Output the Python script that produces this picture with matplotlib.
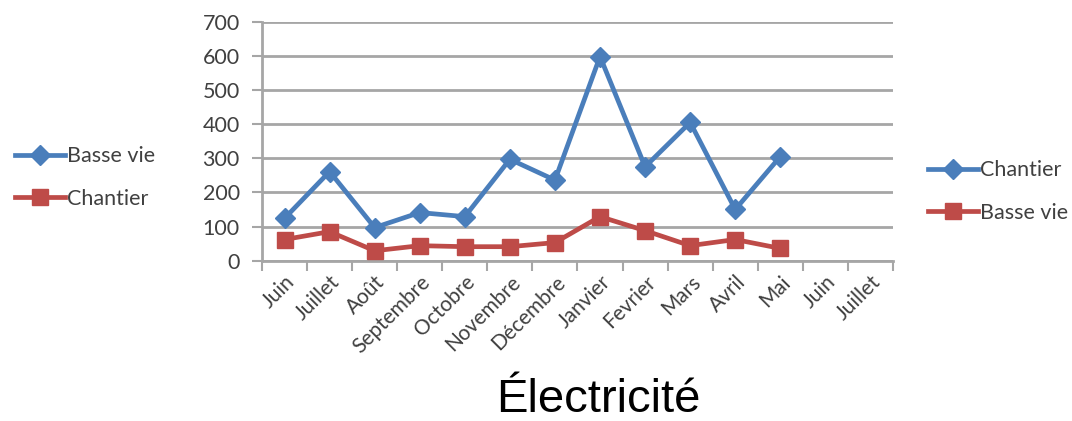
import matplotlib
matplotlib.use("Agg")
import matplotlib.pyplot as plt
from matplotlib.lines import Line2D
import numpy as np

months = ["Juin", "Juillet", "Août", "Septembre", "Octobre", "Novembre",
          "Décembre", "Janvier", "Fevrier", "Mars", "Avril", "Mai",
          "Juin", "Juillet"]
chantier = [124, 261, 97, 141, 129, 297, 236, 598, 275, 405, 150, 305]
basse_vie = [62, 85, 29, 44, 41, 41, 53, 129, 88, 44, 62, 36]
y_ticks = [0, 100, 200, 300, 400, 500, 600, 700]

BLUE = "#4a7ebb"
RED = "#be4b48"
GRID = "#a6a6a6"
TEXT = "#404040"
FONT = ["Lato", "DejaVu Sans"]

fig = plt.figure(figsize=(10.72, 4.21), dpi=100)
ax = fig.add_axes([0.2444, 0.3808, 0.5886, 0.5677])

x = np.arange(len(chantier))
ax.plot(x, chantier, color=BLUE, lw=3.4, marker="D", ms=10, mec=BLUE, mfc=BLUE,
        zorder=3)
ax.plot(x, basse_vie, color=RED, lw=3.4, marker="s", ms=12, mec=RED, mfc=RED,
        zorder=3)

ax.set_xlim(-0.5, len(months) - 0.5)
ax.set_ylim(0, 700)
ax.set_yticks(y_ticks)
ax.set_yticklabels([str(v) for v in y_ticks], fontsize=15.5, color=TEXT,
                   family=FONT)
ax.yaxis.grid(True, color=GRID, lw=2)
ax.set_axisbelow(True)

ax.set_xticks(np.arange(len(months)))
ax.set_xticklabels(months, rotation=45, ha="right", rotation_mode="anchor",
                   fontsize=15, color=TEXT, family=FONT)
ax.tick_params(axis="x", which="major", length=0, pad=8)
ax.set_xticks(np.arange(-0.5, len(months)), minor=True)
ax.tick_params(axis="x", which="minor", length=7, width=1.5, color=GRID,
               direction="out")
ax.tick_params(axis="y", length=7, width=1.5, color=GRID, pad=9)

for side in ("top", "right"):
    ax.spines[side].set_visible(False)
for side in ("left", "bottom"):
    ax.spines[side].set_color(GRID)
    ax.spines[side].set_linewidth(2)

def legend_handles(first_color, first_marker, second_color, second_marker):
    return [
        Line2D([], [], color=first_color, lw=3.4, marker=first_marker,
               ms=10 if first_marker == "D" else 12, mec=first_color),
        Line2D([], [], color=second_color, lw=3.4, marker=second_marker,
               ms=10 if second_marker == "D" else 12, mec=second_color),
    ]

legend_kw = dict(loc="center left", frameon=False, borderpad=0,
                 borderaxespad=0, handlelength=2.3, handletextpad=0.1,
                 labelspacing=1.05, prop={"family": FONT, "size": 15.5})

left_leg = fig.legend(legend_handles(BLUE, "D", RED, "s"),
                      ["Basse vie", "Chantier"],
                      bbox_to_anchor=(0.014, 0.578), **legend_kw)
for t in left_leg.get_texts():
    t.set_color(TEXT)

right_leg = fig.legend(legend_handles(BLUE, "D", RED, "s"),
                       ["Chantier", "Basse vie"],
                       bbox_to_anchor=(0.866, 0.545), **legend_kw)
for t in right_leg.get_texts():
    t.set_color(TEXT)

fig.text(0.558, 0.022, "Électricité", ha="center", va="baseline",
         fontsize=34, family=["Liberation Sans", "DejaVu Sans"], color="black")

fig.savefig("out.png", dpi=100, facecolor="white")
